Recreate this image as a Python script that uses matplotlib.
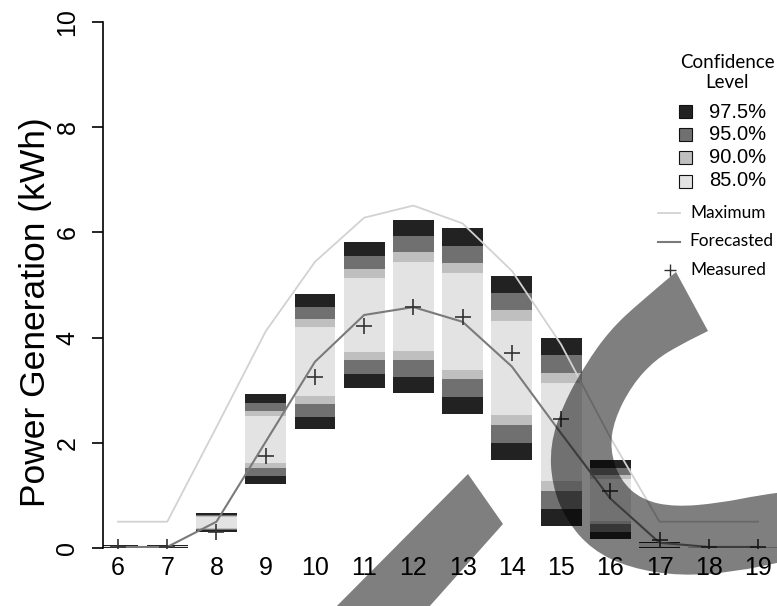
import numpy as np
import matplotlib
matplotlib.use("Agg")
import matplotlib.pyplot as plt
from matplotlib.path import Path
from matplotlib.patches import PathPatch, Polygon, Rectangle
from matplotlib.lines import Line2D

W, H = 777, 606

# hours of the day
hours = [6, 7, 8, 9, 10, 11, 12, 13, 14, 15, 16, 17, 18, 19]

# confidence intervals (upper / lower bounds)
hi975 = [0.05, 0.05, 0.66, 2.92, 4.82, 5.81, 6.24, 6.08, 5.17, 4.00, 1.67, 0.11, 0.02, 0.02]
hi95 = [0.04, 0.04, 0.63, 2.76, 4.58, 5.55, 5.93, 5.75, 4.84, 3.66, 1.53, 0.10, 0.02, 0.02]
hi90 = [0.04, 0.04, 0.61, 2.60, 4.35, 5.30, 5.62, 5.42, 4.52, 3.32, 1.38, 0.095, 0.01, 0.01]
hi85 = [0.03, 0.03, 0.59, 2.51, 4.21, 5.14, 5.44, 5.22, 4.32, 3.13, 1.31, 0.09, 0.01, 0.01]
lo85 = [0.02, 0.02, 0.38, 1.62, 2.89, 3.72, 3.75, 3.39, 2.52, 1.27, 0.52, 0.02, 0.01, 0.01]
lo90 = [0.02, 0.02, 0.36, 1.53, 2.74, 3.57, 3.57, 3.21, 2.33, 1.08, 0.46, 0.015, 0.0, 0.0]
lo95 = [0.01, 0.01, 0.34, 1.37, 2.50, 3.31, 3.26, 2.87, 2.00, 0.74, 0.30, 0.01, 0.0, 0.0]
lo975 = [0.0, 0.0, 0.31, 1.21, 2.27, 3.05, 2.95, 2.54, 1.67, 0.41, 0.17, 0.0, 0.0, 0.0]

maximum = [0.5, 0.5, 2.3, 4.12, 5.44, 6.28, 6.51, 6.17, 5.27, 3.87, 2.1, 0.5, 0.5, 0.5]
forecast = [0.02, 0.02, 0.5, 2.02, 3.54, 4.43, 4.58, 4.30, 3.45, 2.18, 0.94, 0.1, 0.02, 0.02]
measured = [0.02, 0.02, 0.30, 1.75, 3.26, 4.22, 4.58, 4.40, 3.70, 2.45, 1.09, 0.15, 0.02, 0.02]

levels = ["97.5%", "95.0%", "90.0%", "85.0%"]
level_colors = ["#222222", "#707070", "#bfbfbf", "#e3e3e3"]
line_labels = ["Maximum", "Forecasted", "Measured"]

SANS = ["Liberation Sans", "DejaVu Sans"]
CAL = ["Lato", "DejaVu Sans"]

fig = plt.figure(figsize=(W / 100, H / 100), dpi=100)
ax = fig.add_axes([103 / W, 58 / H, 674 / W, 526 / H])

bounds = [(lo975, hi975), (lo95, hi95), (lo90, hi90), (lo85, hi85)]
for (lo, hi), c in zip(bounds, level_colors):
    lo = np.array(lo)
    hi = np.array(hi)
    ax.bar(hours, hi - lo, bottom=lo, width=0.83, color=c, linewidth=0, zorder=2)

ax.plot(hours, maximum, color="#d2d2d2", lw=1.3, zorder=3)
ax.plot(hours, forecast, color="#7a7a7a", lw=1.5, zorder=4)
ax.plot(hours, measured, ls="none", marker="+", ms=11, mew=1.2, color="#333333", zorder=5)

ax.set_xlim(5.695, 19.386)
ax.set_ylim(0, 10)
for s in ["top", "right", "bottom"]:
    ax.spines[s].set_visible(False)
ax.spines["left"].set_bounds(0, 10)
ax.spines["left"].set_linewidth(1.2)
ax.set_xticks(hours)
ax.set_xticklabels([str(h) for h in hours], fontsize=18, family=SANS)
ax.tick_params(axis="x", length=0, pad=6)
ax.set_yticks([0, 2, 4, 6, 8, 10])
ax.set_yticklabels(["0", "2", "4", "6", "8", "10"], fontsize=18, family=SANS,
                   rotation=90, va="center")
ax.tick_params(axis="y", length=8, width=1.2, pad=9)

fig.text(36 / W, 1 - 312 / H, "Power Generation (kWh)", rotation=90,
         ha="center", va="center", fontsize=25.5, family=SANS)


def fp(x, y):
    return (x / W, 1 - y / H)


# legend: confidence levels
fig.text(*fp(727, 62), "Confidence", ha="center", va="center", fontsize=13.5, family=CAL)
fig.text(*fp(727, 83), "Level", ha="center", va="center", fontsize=13.5, family=CAL)
for lab, c, y in zip(levels, level_colors, [112, 134.5, 157.5, 181]):
    x0, y0 = fp(679, y + 6.5)
    fig.add_artist(Rectangle((x0, y0), 13 / W, 13 / H, transform=fig.transFigure,
                             facecolor=c, edgecolor="#111111", lw=0.8))
    fig.text(*fp(709, y), lab, ha="left", va="center", fontsize=14.5, family=SANS)

# legend: lines
ly = [213, 241.5, 270]
fig.add_artist(Line2D([658 / W, 680 / W], [1 - ly[0] / H] * 2, transform=fig.transFigure,
                      color="#d2d2d2", lw=1.3))
fig.add_artist(Line2D([658 / W, 680 / W], [1 - ly[1] / H] * 2, transform=fig.transFigure,
                      color="#7a7a7a", lw=1.5))
fig.add_artist(Line2D([670 / W], [1 - ly[2] / H], transform=fig.transFigure, ls="none",
                      marker="+", ms=9, mew=1.0, color="#333333"))
for lab, y, x in zip(line_labels, ly, [690, 689, 690]):
    fig.text(*fp(x, y), lab, ha="left", va="center", fontsize=12.4, family=CAL)


# grey overlay shapes
def smooth(pts):
    verts = [pts[0]]
    codes = [Path.MOVETO]
    for i in range(1, len(pts) - 1):
        mid = ((pts[i][0] + pts[i + 1][0]) / 2, (pts[i][1] + pts[i + 1][1]) / 2)
        verts += [pts[i], mid]
        codes += [Path.CURVE3, Path.CURVE3]
    verts.append(pts[-1])
    codes.append(Path.LINETO)
    return verts, codes


outer = [(676, 272), (640, 302), (610, 330), (585, 365), (563, 405), (550, 445),
         (552, 485), (566, 520), (592, 550), (630, 568), (680, 576), (735, 572),
         (790, 560), (820, 555)]
inner = [(820, 488), (800, 490), (760, 495), (720, 503), (675, 507), (642, 500),
         (620, 480), (610, 450), (614, 420), (632, 385), (655, 360), (680, 345),
         (708, 331)]
v1, c1 = smooth(outer)
v2, c2 = smooth(inner)
c2[0] = Path.LINETO
verts = v1 + v2 + [outer[0]]
codes = c1 + c2 + [Path.CLOSEPOLY]
verts = [fp(x, y) for x, y in verts]
fig.add_artist(PathPatch(Path(verts, codes), transform=fig.transFigure,
                         facecolor="black", alpha=0.5, lw=0, zorder=10))

band = [(468, 474), (503, 524), (412, 626), (317, 626)]
fig.add_artist(Polygon([fp(x, y) for x, y in band], closed=True, transform=fig.transFigure,
                       facecolor="black", alpha=0.5, lw=0, zorder=10))

fig.savefig("out.png", dpi=100)
